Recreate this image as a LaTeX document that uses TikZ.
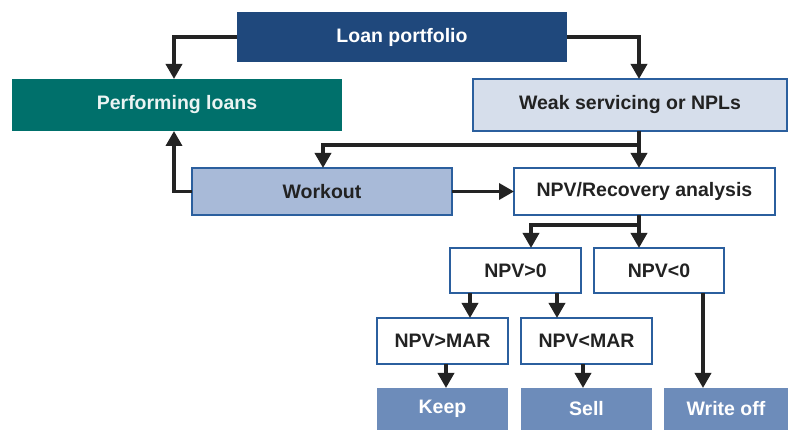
\documentclass[tikz,border=0pt]{standalone}
\usepackage{fontspec}
\setmainfont{Liberation Sans}
\usetikzlibrary{arrows.meta}
\definecolor{navy}{HTML}{1F487C}
\definecolor{tealc}{HTML}{00706B}
\definecolor{bordc}{HTML}{2B5F9E}
\definecolor{lightc}{HTML}{D6DEEB}
\definecolor{midc}{HTML}{A8BAD8}
\definecolor{endc}{HTML}{6D8CBA}
\definecolor{arrc}{HTML}{232323}
\definecolor{txtc}{HTML}{222222}
\tikzset{
  box/.style={rectangle, inner sep=0pt, outer sep=0pt, anchor=north west,
    font=\fontsize{19.5}{23}\selectfont\bfseries},
  darkbox/.style={box, fill=navy, text=white},
  tealbox/.style={box, fill=tealc, text=white!92!tealc},
  lightbox/.style={box, fill=lightc, draw=bordc, line width=2pt, text=txtc},
  midbox/.style={box, fill=midc, draw=bordc, line width=2pt, text=txtc},
  whitebox/.style={box, fill=white, draw=bordc, line width=2pt, text=txtc},
  endbox/.style={box, fill=endc, text=white},
  arr/.style={draw=arrc, line width=3.5pt, -{Triangle[width=16pt,length=15pt]}},
  ln/.style={draw=arrc, line width=3.5pt}
}
\begin{document}
\begin{tikzpicture}[x=1pt,y=-1pt]
\useasboundingbox[fill=white] (0,0) rectangle (788,430);
% boxes
\node[darkbox, minimum width=330pt, minimum height=50pt] (loan) at (237,12) {Loan portfolio};
\node[tealbox, minimum width=330pt, minimum height=52pt] (perf) at (12,79) {Performing loans};
\node[lightbox, minimum width=314pt, minimum height=52pt] (weak) at (473,79) {Weak servicing or NPLs};
\node[midbox, minimum width=260pt, minimum height=47pt] (work) at (192,168) {Workout};
\node[whitebox, minimum width=261pt, minimum height=47pt] (npv) at (514,168) {NPV/Recovery analysis};
\node[whitebox, minimum width=131pt, minimum height=45pt] (pos) at (450,248) {NPV>0};
\node[whitebox, minimum width=130pt, minimum height=45pt] (neg) at (594,248) {NPV<0};
\node[whitebox, minimum width=131pt, minimum height=46pt] (pmar) at (377,318) {NPV>MAR};
\node[whitebox, minimum width=131pt, minimum height=46pt] (nmar) at (521,318) {NPV<MAR};
\node[endbox, minimum width=131pt, minimum height=42pt] (keep) at (377,388) {Keep};
\node[endbox, minimum width=131pt, minimum height=42pt] (sell) at (521,388) {Sell};
\node[endbox, minimum width=124pt, minimum height=42pt] (woff) at (664,388) {Write off};
% helper coordinates
\coordinate (xa) at (174,0);
\coordinate (xb) at (639,0);
\coordinate (xc) at (323,0);
\coordinate (xd) at (531,0);
\coordinate (xe) at (470,0);
\coordinate (xf) at (557,0);
\coordinate (xg) at (703,0);
\coordinate (xh) at (446,0);
\coordinate (xi) at (583,0);
\coordinate (j1) at (639,145);
\coordinate (j2) at (639,225);
% connectors
\draw[arr] (loan.west) -| (perf.north -| xa);
\draw[arr] (loan.east) -| (weak.north -| xb);
\draw[arr] (weak.south -| xb) -- (npv.north -| xb);
\draw[arr] (j1) -| (work.north -| xc);
\draw[arr] (work.west) -| (perf.south -| xa);
\draw[arr] (work.east) -- (npv.west);
\draw[arr] (npv.south -| xb) -- (neg.north -| xb);
\draw[arr] (j2) -| (pos.north -| xd);
\draw[arr] (pos.south -| xe) -- (pmar.north -| xe);
\draw[arr] (pos.south -| xf) -- (nmar.north -| xf);
\draw[arr] (neg.south -| xg) -- (woff.north -| xg);
\draw[arr] (pmar.south -| xh) -- (keep.north -| xh);
\draw[arr] (nmar.south -| xi) -- (sell.north -| xi);
\end{tikzpicture}
\end{document}
